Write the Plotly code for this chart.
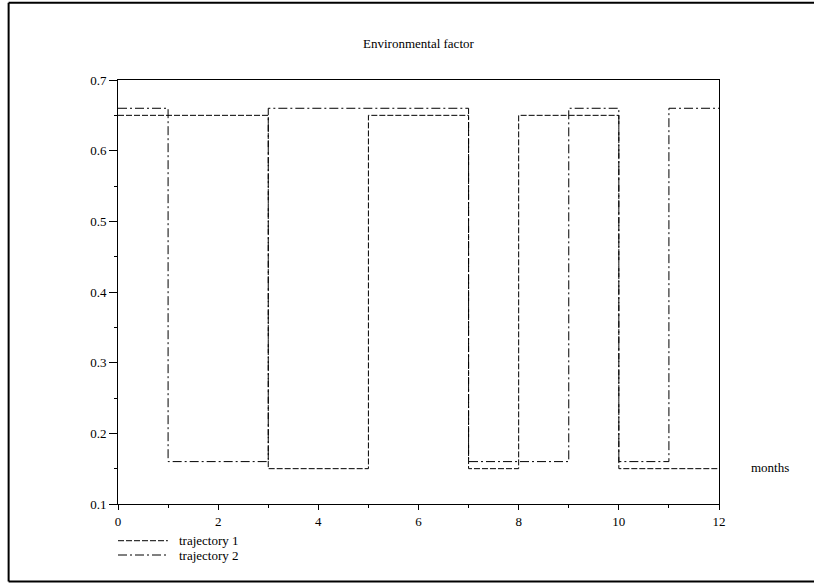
import plotly.graph_objects as go

# Data: switching times (months) and factor levels (step functions, value held until next time)
t1 = [0, 3, 5, 7, 8, 10, 12]
v1 = [0.65, 0.15, 0.65, 0.15, 0.65, 0.15, 0.15]
t2 = [0, 1, 3, 7, 9, 10, 11, 12]
v2 = [0.66, 0.16, 0.66, 0.16, 0.66, 0.16, 0.66, 0.66]
names = ["trajectory 1", "trajectory 2"]
dashes = ["6px,2px", "9px,3px,2px,3px"]

FONT = "Liberation Serif, Times New Roman, serif"

fig = go.Figure()
fig.add_trace(go.Scatter(x=t1, y=v1, mode="lines", line_shape="hv", name=names[0],
                         line=dict(color="black", width=1, dash=dashes[0]), showlegend=False))
fig.add_trace(go.Scatter(x=t2, y=v2, mode="lines", line_shape="hv", name=names[1],
                         line=dict(color="black", width=1, dash=dashes[1]), showlegend=False))

axis_common = dict(showgrid=False, zeroline=False, showline=True, linecolor="black",
                   linewidth=1, mirror=True, ticks="outside", tickcolor="black", tickwidth=1,
                   tickfont=dict(family=FONT, size=13, color="black"))

fig.update_xaxes(range=[0, 12], tickmode="linear", tick0=0, dtick=2, ticklen=5,
                 minor=dict(ticks="outside", dtick=1, ticklen=3, tickcolor="black", showgrid=False),
                 **axis_common)
fig.update_yaxes(range=[0.1, 0.7], tickmode="linear", tick0=0.1, dtick=0.1, ticklen=8,
                 tickformat=".1f",
                 minor=dict(ticks="outside", dtick=0.05, ticklen=3, tickcolor="black", showgrid=False),
                 **axis_common)

shapes = [
    # outer frame (top, left, bottom)
    dict(type="line", xref="paper", yref="paper", x0=-0.182, x1=1.2, y0=1.182, y1=1.182,
         line=dict(color="black", width=2)),
    dict(type="line", xref="paper", yref="paper", x0=-0.182, x1=-0.182, y0=1.182, y1=-0.183,
         line=dict(color="black", width=2)),
    dict(type="line", xref="paper", yref="paper", x0=-0.182, x1=1.2, y0=-0.183, y1=-0.183,
         line=dict(color="black", width=2)),
]
annotations = [
    dict(text="Environmental factor", xref="paper", yref="paper", x=0.5, y=1.085,
         xanchor="center", yanchor="middle", showarrow=False,
         font=dict(family=FONT, size=13, color="black")),
    dict(text="months", xref="paper", yref="paper", x=1.085, y=0.085,
         xanchor="center", yanchor="middle", showarrow=False,
         font=dict(family=FONT, size=13, color="black")),
]
leg_y = [-0.0866, -0.1203]
for i in range(2):
    shapes.append(dict(type="line", xref="paper", yref="paper", x0=0.0, x1=0.083,
                       y0=leg_y[i], y1=leg_y[i],
                       line=dict(color="black", width=1, dash=dashes[i])))
    annotations.append(dict(text=names[i], xref="paper", yref="paper", x=0.098, y=leg_y[i],
                            xanchor="left", yanchor="middle", showarrow=False,
                            font=dict(family=FONT, size=13, color="black")))

fig.update_layout(width=814, height=583, margin=dict(l=118, r=95, t=80, b=79),
                  plot_bgcolor="white", paper_bgcolor="white", showlegend=False,
                  shapes=shapes, annotations=annotations)

fig.write_html("out.html", config={"displayModeBar": False})

# remove the default page margin so the figure sits at the window's top-left corner
with open("out.html", "r", encoding="utf-8") as f:
    html = f.read()
html = html.replace("<head>", "<head><style>html,body{margin:0;padding:0;overflow:hidden;}</style>", 1)
with open("out.html", "w", encoding="utf-8") as f:
    f.write(html)
